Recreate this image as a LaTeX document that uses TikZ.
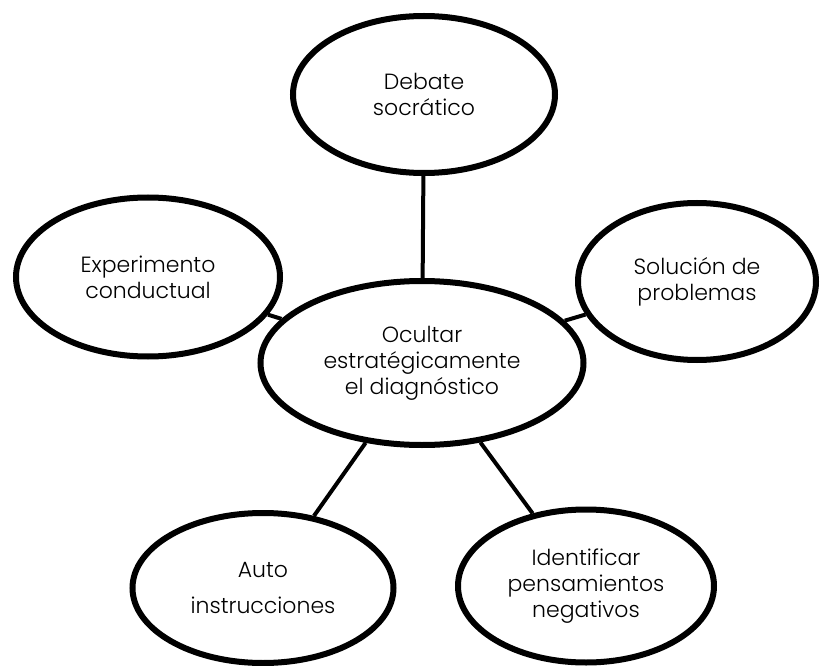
\documentclass[tikz,border=0pt]{standalone}
\usepackage{fontspec}
\setmainfont{Poppins Light}
\usetikzlibrary{shapes.geometric}
\tikzset{
  bubble/.style={ellipse, draw=black, line width=6pt, fill=white, inner sep=0pt,
    align=center, font=\fontsize{22}{26}\selectfont},
  link/.style={line width=4pt, draw=black}
}
\begin{document}
\begin{tikzpicture}[x=1pt,y=-1pt]
\useasboundingbox (0,0) rectangle (820,666);
% hub and its five techniques
\node[bubble, minimum width=323pt, minimum height=164pt] (hub) at (422,363)
  {Ocultar\\estratégicamente\\el diagnóstico};
\node[bubble, minimum width=262pt, minimum height=157pt] (deb) at (424,94.5)
  {Debate\\socrático};
\node[bubble, minimum width=264pt, minimum height=159pt] (exp) at (148,277)
  {Experimento\\conductual};
\node[bubble, minimum width=238pt, minimum height=157pt] (sol) at (697,281.5)
  {Solución de\\problemas};
\node[bubble, minimum width=261pt, minimum height=150pt] (aut) at (263,588)
  {Auto\\[10pt]instrucciones};
\node[bubble, minimum width=256pt, minimum height=153pt] (ide) at (586,586)
  {Identificar\\pensamientos\\negativos};
% spokes
\draw[link] (hub) -- (deb);
\draw[link] (hub) -- (exp);
\draw[link] (hub) -- (sol);
\draw[link] (hub) -- (aut);
\draw[link] (hub) -- (ide);
\end{tikzpicture}
\end{document}
